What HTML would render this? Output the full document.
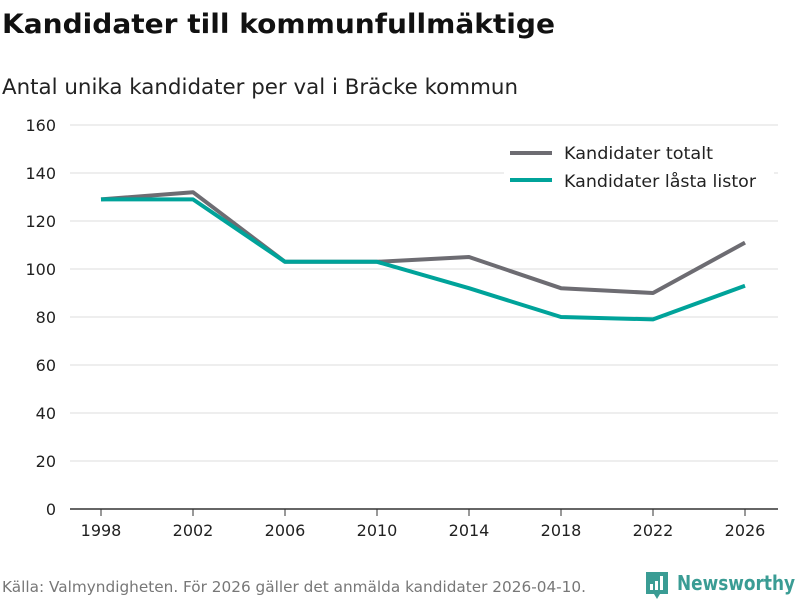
<!DOCTYPE html>
<html><head><meta charset="utf-8"><style>
body{margin:0;width:800px;height:600px;background:#fff;font-family:"DejaVu Sans","Liberation Sans",sans-serif;overflow:hidden}
</style></head><body>
<svg width="800" height="600" xmlns="http://www.w3.org/2000/svg">
<text x="2" y="33" font-size="27" font-weight="bold" fill="#111" textLength="553" lengthAdjust="spacingAndGlyphs">Kandidater till kommunfullmäktige</text>
<text x="2" y="94" font-size="21" fill="#222" textLength="516" lengthAdjust="spacingAndGlyphs">Antal unika kandidater per val i Bräcke kommun</text>
<g id="grid"></g>
<g id="lines"></g>
<g>
<rect x="504" y="140" width="270" height="56" fill="#fff"/>
<line x1="510" y1="153" x2="552" y2="153" stroke="#6d6c72" stroke-width="4"/>
<text x="564" y="159" font-size="17" fill="#222" textLength="149" lengthAdjust="spacingAndGlyphs">Kandidater totalt</text>
<line x1="510" y1="180" x2="552" y2="180" stroke="#00a39a" stroke-width="4"/>
<text x="564" y="187" font-size="17" fill="#222" textLength="192" lengthAdjust="spacingAndGlyphs">Kandidater låsta listor</text>
</g>
<text x="2" y="592" font-size="15" fill="#777" textLength="584" lengthAdjust="spacingAndGlyphs">Källa: Valmyndigheten. För 2026 gäller det anmälda kandidater 2026-04-10.</text>
<g>
<path d="M646 572 h22 v22 h-8 l-3 5 l-3 -5 h-8 z" fill="#3a9c94"/>
<rect x="650" y="584" width="3" height="6" fill="#fff"/><rect x="655" y="581" width="3" height="9" fill="#fff"/><rect x="660" y="576" width="3" height="14" fill="#fff"/>
<text x="677" y="590" font-size="20" font-weight="bold" fill="#3a9c94" textLength="118" lengthAdjust="spacingAndGlyphs">Newsworthy</text>
</g>
</svg>
<script>
const years=["1998","2002","2006","2010","2014","2018","2022","2026"];
const totalt=[129,132,103,103,105,92,90,111];
const lasta=[129,129,103,103,92,80,79,93];
const yTicks=[0,20,40,60,80,100,120,140,160];
const NS="http://www.w3.org/2000/svg";
const x=i=>101+i*92;
const y=v=>509-v*2.4;
const grid=document.getElementById('grid');
yTicks.forEach(t=>{
 const l=document.createElementNS(NS,'line');
 l.setAttribute('x1',70);l.setAttribute('x2',778);l.setAttribute('y1',y(t));l.setAttribute('y2',y(t));
 l.setAttribute('stroke',t===0?'#333':'#ddd');l.setAttribute('stroke-width',t===0?1.5:1);
 
 
 grid.appendChild(l);
 const tx=document.createElementNS(NS,'text');
 tx.setAttribute('x',56);tx.setAttribute('y',y(t)+6);tx.setAttribute('text-anchor','end');tx.setAttribute('font-size','16');tx.setAttribute('fill','#222');
 tx.textContent=t;
 
 
 grid.appendChild(tx);
});
years.forEach((yr,i)=>{
 const l=document.createElementNS(NS,'line');
 l.setAttribute('x1',x(i));l.setAttribute('x2',x(i));l.setAttribute('y1',509);l.setAttribute('y2',516);l.setAttribute('stroke','#333');
 
 
 grid.appendChild(l);
 const tx=document.createElementNS(NS,'text');
 tx.setAttribute('x',x(i));tx.setAttribute('y',536);tx.setAttribute('text-anchor','middle');tx.setAttribute('font-size','16');tx.setAttribute('fill','#222');
 tx.textContent=yr;
 
 
 grid.appendChild(tx);
});
const lines=document.getElementById('lines');
function draw(vals,color,name){
 const p=document.createElementNS(NS,'polyline');
 p.setAttribute('points',vals.map((v,i)=>x(i)+','+y(v)).join(' '));
 p.setAttribute('fill','none');p.setAttribute('stroke',color);p.setAttribute('stroke-width',4);p.setAttribute('stroke-linejoin','round');
 
 
 lines.appendChild(p);
}
draw(totalt,'#6d6c72','line-kandidater-totalt');
draw(lasta,'#00a39a','line-kandidater-lasta-listor');
</script>
</body></html>
